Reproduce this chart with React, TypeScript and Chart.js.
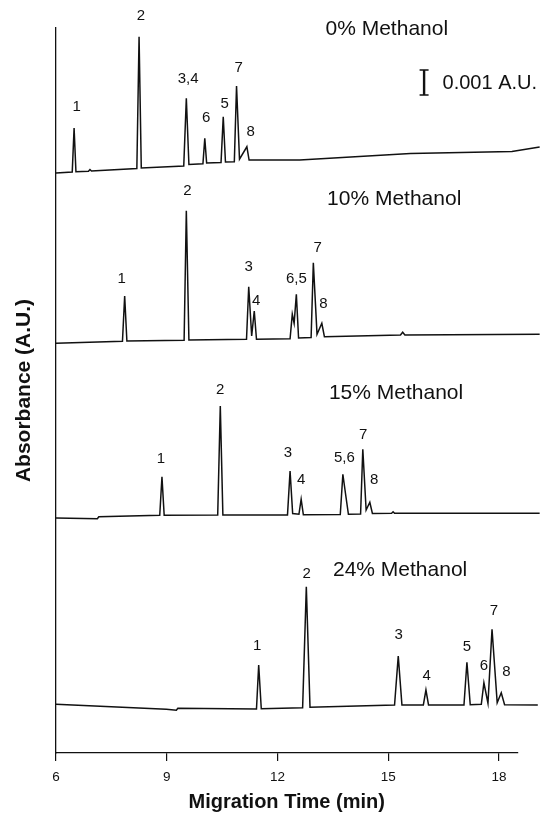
import React, { useEffect, useRef } from "react";
import { Chart, registerables } from "chart.js";

Chart.register(...registerables);

// ---- axes ----
const xTickValues = [6, 9, 12, 15, 18];
const xMin = 6;
const xMax = 18.5;
const yMin = 0;
const yMax = 29; // mAU (1 mAU = 0.001 A.U.)

// ---- traces: migration time (min) / absorbance (mAU, stacked) ----
// 0% Methanol
const time0 = [6.0, 6.44, 6.49, 6.54, 6.88, 6.92, 6.96, 8.19, 8.25, 8.31, 9.46, 9.53, 9.6, 9.98, 10.03, 10.08, 10.47, 10.53, 10.59, 10.83, 10.89, 10.97, 11.17, 11.23, 12.6, 15.6, 18.35, 19.1];
const abs0 = [23.2, 23.24, 25.0, 23.25, 23.27, 23.34, 23.28, 23.38, 28.65, 23.4, 23.48, 26.19, 23.54, 23.57, 24.59, 23.6, 23.62, 25.45, 23.64, 23.65, 26.68, 23.75, 24.25, 23.72, 23.72, 23.98, 24.06, 24.24];
// 10% Methanol
const time1 = [6.0, 7.8, 7.86, 7.92, 9.47, 9.53, 9.6, 11.16, 11.22, 11.3, 11.37, 11.43, 12.34, 12.4, 12.45, 12.51, 12.57, 12.91, 12.97, 13.07, 13.2, 13.27, 15.33, 15.39, 15.45, 19.1];
const abs1 = [16.39, 16.47, 18.28, 16.48, 16.51, 21.69, 16.52, 16.55, 18.65, 16.68, 17.68, 16.55, 16.57, 17.55, 17.19, 18.35, 16.6, 16.62, 19.61, 16.75, 17.19, 16.65, 16.72, 16.83, 16.72, 16.75];
// 15% Methanol
const time2 = [6.0, 7.12, 7.16, 8.81, 8.87, 8.93, 10.38, 10.45, 10.52, 12.27, 12.34, 12.41, 12.58, 12.64, 12.7, 13.7, 13.77, 13.84, 13.92, 14.25, 14.31, 14.4, 14.5, 14.57, 15.09, 15.13, 15.17, 19.1];
const abs2 = [9.4, 9.37, 9.45, 9.51, 11.05, 9.51, 9.52, 13.88, 9.52, 9.52, 11.28, 9.58, 9.55, 10.15, 9.53, 9.54, 11.15, 10.39, 9.55, 9.56, 12.15, 9.72, 10.03, 9.58, 9.59, 9.65, 9.59, 9.59];
// 24% Methanol
const time3 = [6.0, 8.99, 9.26, 9.3, 11.43, 11.49, 11.56, 12.68, 12.78, 12.88, 15.17, 15.27, 15.37, 15.95, 16.02, 16.09, 17.05, 17.13, 17.22, 17.52, 17.59, 17.7, 17.81, 17.95, 18.06, 18.15, 19.05];
const abs3 = [1.95, 1.75, 1.71, 1.79, 1.76, 3.52, 1.77, 1.81, 6.65, 1.83, 1.92, 3.88, 1.92, 1.92, 2.52, 1.92, 1.92, 3.63, 1.93, 1.95, 2.81, 1.99, 4.95, 2.01, 2.41, 1.93, 1.92];

const traceTimes = [time0, time1, time2, time3];
const traceAbs = [abs0, abs1, abs2, abs3];

// ---- trace titles ----
const traceNames = ["0% Methanol", "10% Methanol", "15% Methanol", "24% Methanol"];
const traceNameTime = [14.96, 15.16, 15.21, 15.32];
const traceNameAbs = [29.03, 22.22, 14.46, 7.4];

// ---- peak labels ----
const peakLabels = [
  "1", "2", "3,4", "6", "5", "7", "8",
  "1", "2", "3", "4", "6,5", "7", "8",
  "1", "2", "3", "4", "5,6", "7", "8",
  "1", "2", "3", "4", "5", "6", "7", "8",
];
const peakLabelTime = [
  6.56, 8.3, 9.58, 10.07, 10.57, 10.95, 11.27,
  7.78, 9.56, 11.22, 11.42, 12.51, 13.09, 13.24,
  8.84, 10.45, 12.28, 12.64, 13.81, 14.32, 14.62,
  11.45, 12.79, 15.28, 16.04, 17.13, 17.59, 17.86, 18.2,
];
const peakLabelAbs = [
  25.88, 29.52, 27.03, 25.45, 26.01, 27.45, 24.88,
  19.01, 22.55, 19.48, 18.15, 19.01, 20.25, 18.01,
  11.83, 14.59, 12.05, 10.99, 11.85, 12.76, 10.99,
  4.35, 7.23, 4.76, 3.12, 4.28, 3.55, 5.72, 3.29,
];

// ---- scale bar ----
const scaleBarTime = 15.97;
const scaleBarFrom = 26.32;
const scaleBarTo = 27.32;
const scaleBarText = "0.001 A.U.";
const scaleBarTextTime = 16.47;
const scaleBarTextAbs = 26.85;

const FAMILY = '"Liberation Sans", Arial, Helvetica, sans-serif';
const INK = "#111";

const annotatePlugin = {
  id: "annotate",
  afterDatasetsDraw(chart: any) {
    const { ctx } = chart;
    const xs = chart.scales.x;
    const ys = chart.scales.y;
    const put = (text: string, t: number, v: number, size: number, align: CanvasTextAlign) => {
      ctx.font = `${size}px ${FAMILY}`;
      ctx.textAlign = align;
      ctx.textBaseline = "alphabetic";
      ctx.fillText(text, xs.getPixelForValue(t), ys.getPixelForValue(v) + size * 0.358);
    };
    ctx.save();
    ctx.fillStyle = INK;
    peakLabels.forEach((s, i) => put(s, peakLabelTime[i], peakLabelAbs[i], 15, "center"));
    traceNames.forEach((s, i) => put(s, traceNameTime[i], traceNameAbs[i], 21, "center"));
    put(scaleBarText, scaleBarTextTime, scaleBarTextAbs, 20, "left");

    const bx = xs.getPixelForValue(scaleBarTime);
    const b1 = ys.getPixelForValue(scaleBarFrom);
    const b2 = ys.getPixelForValue(scaleBarTo);
    ctx.strokeStyle = INK;
    ctx.lineWidth = 2.4;
    ctx.beginPath();
    ctx.moveTo(bx, b1);
    ctx.lineTo(bx, b2);
    ctx.stroke();
    ctx.lineWidth = 1.6;
    ctx.beginPath();
    ctx.moveTo(bx - 4.5, b1);
    ctx.lineTo(bx + 4.5, b1);
    ctx.moveTo(bx - 4.5, b2);
    ctx.lineTo(bx + 4.5, b2);
    ctx.stroke();
    ctx.restore();
  },
};

export default function App() {
  const canvasRef = useRef<HTMLCanvasElement | null>(null);

  useEffect(() => {
    const canvas = canvasRef.current;
    if (!canvas) return;
    const datasets = traceTimes.map((times, k) => ({
      label: traceNames[k],
      data: times.map((t, i) => ({ x: t, y: traceAbs[k][i] })),
      borderColor: INK,
      borderWidth: 1.5,
      pointRadius: 0,
      tension: 0,
      fill: false,
      clip: false as any,
    }));
    const chart = new Chart(canvas, {
      type: "line",
      data: { datasets },
      options: {
        animation: false,
        responsive: false,
        devicePixelRatio: 1,
        layout: { padding: { top: 28, right: 24.5, left: 0, bottom: 0 } },
        plugins: { legend: { display: false }, tooltip: { enabled: false } },
        scales: {
          x: {
            type: "linear",
            position: "bottom",
            min: xMin,
            max: xMax,
            afterBuildTicks: (s: any) => {
              s.ticks = xTickValues.map((v) => ({ value: v }));
            },
            afterFit: (s: any) => {
              s.height = 66;
            },
            ticks: {
              autoSkip: false,
              maxRotation: 0,
              padding: 8,
              color: INK,
              font: { size: 13.5, family: FAMILY },
              callback: (v: any) => String(v),
            },
            grid: { drawOnChartArea: false, drawTicks: true, tickLength: 8, color: INK, lineWidth: 1.2 },
            border: { display: true, color: INK, width: 1.3 },
            title: {
              display: true,
              text: "Migration Time (min)",
              color: INK,
              font: { size: 20, weight: "bold", family: FAMILY },
              padding: { top: 0, bottom: 5 },
            },
          },
          y: {
            type: "linear",
            min: yMin,
            max: yMax,
            afterFit: (s: any) => {
              s.width = 56;
            },
            ticks: { display: false },
            grid: { display: false },
            border: { display: true, color: INK, width: 1.3 },
            title: {
              display: true,
              text: "Absorbance (A.U.)",
              color: INK,
              font: { size: 21, weight: "bold", family: FAMILY },
              padding: { top: 12, bottom: 0 },
            },
          },
        },
      },
      plugins: [annotatePlugin],
    } as any);
    return () => chart.destroy();
  }, []);

  return (
    <div style={{ position: "fixed", left: 0, top: 0, width: 542, height: 819, background: "#fff" }}>
      <canvas ref={canvasRef} width={542} height={819} style={{ display: "block", width: 542, height: 819 }} />
    </div>
  );
}
